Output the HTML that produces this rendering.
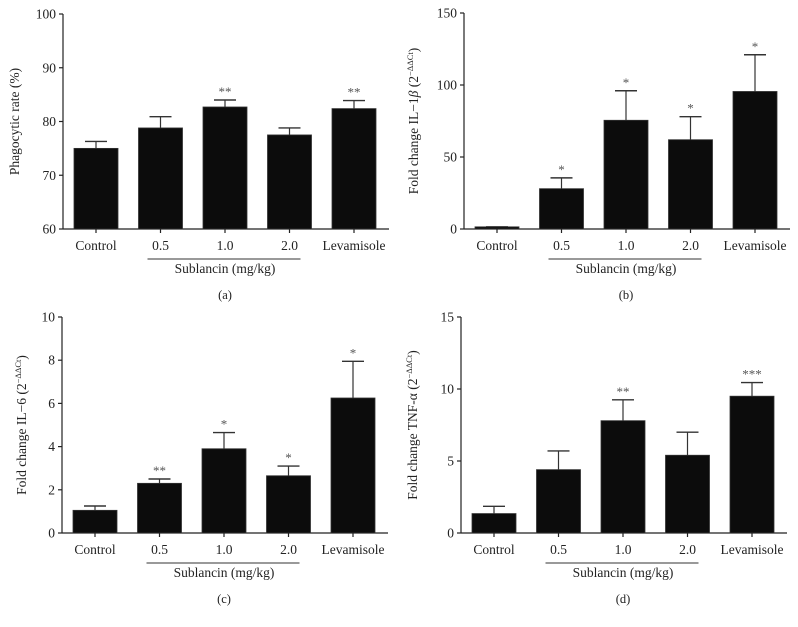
<!DOCTYPE html>
<html><head><meta charset="utf-8">
<style>
html,body{margin:0;padding:0;background:#fff;}
svg{display:block;font-family:"Liberation Serif",serif;}
</style></head>
<body>
<svg id="fig" width="798" height="627" viewBox="0 0 798 627"></svg>
<script>
const categories = ["Control","0.5","1.0","2.0","Levamisole"];
const valuesA = [75.0, 78.8, 82.7, 77.5, 82.4];
const errA    = [76.3, 80.9, 84.0, 78.8, 83.9];
const starsA  = ["", "", "**", "", "**"];
const ticksA  = [60, 70, 80, 90, 100];
const valuesB = [1.5, 28, 75.5, 62, 95.5];
const errB    = [1.5, 35.5, 96, 78, 121];
const starsB  = ["", "*", "*", "*", "*"];
const ticksB  = [0, 50, 100, 150];
const valuesC = [1.05, 2.3, 3.9, 2.65, 6.25];
const errC    = [1.25, 2.5, 4.65, 3.1, 7.95];
const starsC  = ["", "**", "*", "*", "*"];
const ticksC  = [0, 2, 4, 6, 8, 10];
const valuesD = [1.35, 4.4, 7.8, 5.4, 9.5];
const errD    = [1.85, 5.7, 9.25, 7.0, 10.45];
const starsD  = ["", "", "**", "", "***"];
const ticksD  = [0, 5, 10, 15];

const NS = "http://www.w3.org/2000/svg";
const svg = document.getElementById("fig");
function mk(tag, attrs, parent, text){
  const e = document.createElementNS(NS, tag);
  for (const k in attrs) e.setAttribute(k, attrs[k]);
  if (text !== undefined) e.textContent = text;
  (parent || svg).appendChild(e);
  return e;
}

function panel(id, ax, top, bottom, ticks, vals, errs, stars, ylabelHTML, letter, ylx){
  const g = mk("g", {});
  
  
  const ymin = ticks[0], ymax = ticks[ticks.length-1];
  const y = v => bottom - (v - ymin) / (ymax - ymin) * (bottom - top);
  const xc = i => ax + 33 + 64.5 * i;
  const right = ax + 326;
  const yaxis = mk("line", {x1:ax, y1:top, x2:ax, y2:bottom, stroke:"#222", "stroke-width":1.2}, g);
  
  
  const xaxis = mk("line", {x1:ax, y1:bottom, x2:right, y2:bottom, stroke:"#222", "stroke-width":1.2}, g);
  
  
  ticks.forEach(t => {
    mk("line", {x1:ax-4, y1:y(t), x2:ax, y2:y(t), stroke:"#222", "stroke-width":1.2}, g);
    const tl = mk("text", {x:ax-7, y:y(t)+4.5, "text-anchor":"end", "font-size":13.5, fill:"#222"}, g, String(t));
    
    
  });
  categories.forEach((c, i) => {
    const cx = xc(i);
    mk("line", {x1:cx, y1:y(vals[i]), x2:cx, y2:y(errs[i]), stroke:"#333", "stroke-width":1.2}, g);
    mk("line", {x1:cx-11, y1:y(errs[i]), x2:cx+11, y2:y(errs[i]), stroke:"#333", "stroke-width":1.4}, g);
    const bar = mk("rect", {x:cx-22, y:y(vals[i]), width:44, height:Math.max(1.5, bottom - y(vals[i])), fill:"#0c0c0c", stroke:"#333", "stroke-width":0.8}, g);
    
    
    if (stars[i]) {
      const s = mk("text", {x:cx, y:y(errs[i])-4, "text-anchor":"middle", "font-size":13, fill:"#555"}, g, stars[i]);
      
      
    }
    mk("line", {x1:cx, y1:bottom, x2:cx, y2:bottom+4, stroke:"#222", "stroke-width":1.2}, g);
    const xl = mk("text", {x:cx, y:bottom+21, "text-anchor":"middle", "font-size":13.5, fill:"#222"}, g, c);
    
    
  });
  const ul = mk("line", {x1:xc(1)-13, y1:bottom+30, x2:xc(3)+11, y2:bottom+30, stroke:"#333", "stroke-width":1}, g);
  
  
  const gl = mk("text", {x:xc(2), y:bottom+44, "text-anchor":"middle", "font-size":13.5, fill:"#222"}, g, "Sublancin (mg/kg)");
  
  
  const pl = mk("text", {x:xc(2), y:bottom+70, "text-anchor":"middle", "font-size":12.5, fill:"#222"}, g, "(" + letter + ")");
  
  
  const yl = mk("text", {x:0, y:0, "text-anchor":"middle", "font-size":13.5, fill:"#222", transform:"translate(" + ylx + "," + ((top+bottom)/2) + ") rotate(-90)"}, g);
  yl.innerHTML = ylabelHTML;
  
  
}

const sup = '<tspan font-size="8.5" dy="-5">−ΔΔCt</tspan><tspan dy="5">)</tspan>';
panel("a", 63, 14, 229, ticksA, valuesA, errA, starsA, 'Phagocytic rate (%)', "a", 19);
panel("b", 464, 13, 229, ticksB, valuesB, errB, starsB, 'Fold change IL−1<tspan font-style="italic">β</tspan> (2' + sup, "b", 418);
panel("c", 62, 317, 533, ticksC, valuesC, errC, starsC, 'Fold change IL−6 (2' + sup, "c", 26);
panel("d", 461, 317, 533, ticksD, valuesD, errD, starsD, 'Fold change TNF-α (2' + sup, "d", 417);
</script>
</body></html>
